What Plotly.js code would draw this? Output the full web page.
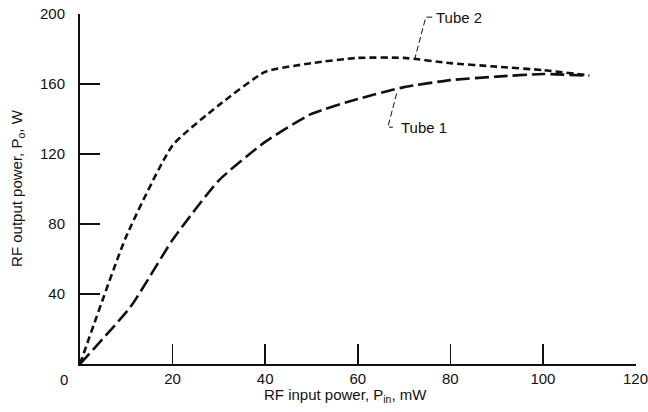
<!DOCTYPE html>
<html>
<head>
<meta charset="utf-8">
<script src="https://cdn.plot.ly/plotly-3.0.1.min.js"></script>
<style>html,body{margin:0;padding:0;background:#fff;}#chart{width:648px;height:412px;}</style>
</head>
<body>
<div id="chart"></div>
<script>
const tube2X = [0, 10, 20, 30, 40, 50, 60, 70, 80, 90, 100, 110];
const tube2Y = [0, 73, 125, 148, 167, 172, 175, 175, 172, 170, 168, 165];
const tube1X = [0, 11, 20, 30, 40, 50, 60, 70, 80, 90, 100, 110];
const tube1Y = [0, 33, 71, 105, 127, 143, 151.5, 158.3, 162.3, 164.3, 165.8, 164.8];
const xTicks = [20, 40, 60, 80, 100, 120];
const yTicks = [40, 80, 120, 160, 200];
const seriesNames = ["Tube 1", "Tube 2"];

const FONT = "'Liberation Sans', Arial, sans-serif";

const traces = [
  {x: tube2X, y: tube2Y, mode: 'lines', name: seriesNames[1],
   line: {color: '#111', width: 2.6, dash: '7px,4px', shape: 'spline', smoothing: 0.5}},
  {x: tube1X, y: tube1Y, mode: 'lines', name: seriesNames[0],
   line: {color: '#111', width: 2.6, dash: '14px,5px', shape: 'spline', smoothing: 0.5}}
];

const axisCommon = {
  showgrid: false, zeroline: false, showline: true, linecolor: '#111', linewidth: 2,
  ticks: 'inside', ticklen: 20, tickwidth: 1.5, tickcolor: '#111',
  ticklabeloverflow: 'allow',
  tickfont: {family: FONT, size: 15, color: '#111'}, fixedrange: true
};

const layout = {
  width: 648, height: 412,
  margin: {l: 80, r: 12, t: 14, b: 48, pad: 0},
  paper_bgcolor: '#fff', plot_bgcolor: '#fff',
  showlegend: false,
  font: {family: FONT, size: 15, color: '#111'},
  xaxis: Object.assign({}, axisCommon, {range: [0, 120.1], tickmode: 'array', tickvals: xTicks,
    ticktext: xTicks.map(String)}),
  yaxis: Object.assign({}, axisCommon, {range: [0, 200.1], tickmode: 'array', tickvals: yTicks,
    ticktext: yTicks.map(String), ticklabelstandoff: 10}),
  annotations: [
    {x: -0.0288, y: -0.0457, xref: 'paper', yref: 'paper', xanchor: 'center', yanchor: 'middle',
     text: '0', showarrow: false, font: {family: FONT, size: 15, color: '#111'}},
    {x: 0.478, y: -0.0914, xref: 'paper', yref: 'paper', xanchor: 'center', yanchor: 'middle',
     text: 'RF input power, P<sub>in</sub>, mW', showarrow: false, font: {family: FONT, size: 15, color: '#111'}},
    {x: -0.1115, y: 0.503, xref: 'paper', yref: 'paper', xanchor: 'center', yanchor: 'middle',
     text: 'RF output power, P<sub>o</sub>, W', showarrow: false,
     textangle: -90, font: {family: FONT, size: 15, color: '#111'}},
    {x: 76.4, y: 198.3, xref: 'x', yref: 'y', text: seriesNames[1], showarrow: false, xanchor: 'left', yanchor: 'middle',
     font: {family: FONT, size: 15, color: '#111'}},
    {x: 68.9, y: 135, xref: 'x', yref: 'y', text: seriesNames[0], showarrow: false, xanchor: 'left', yanchor: 'middle',
     font: {family: FONT, size: 15, color: '#111'}}
  ],
  shapes: [
    {type: 'path', xref: 'x', yref: 'y', path: 'M 76.1 198.3 L 74.7 198.3 L 72.3 174.3',
     line: {color: '#111', width: 1, dash: '6px,3px'}},
    {type: 'path', xref: 'x', yref: 'y', path: 'M 68.4 154.7 L 66.5 135.4 L 67.6 135.4',
     line: {color: '#111', width: 1, dash: '6px,3px'}}
  ]
};

Plotly.newPlot('chart', traces, layout, {displayModeBar: false, staticPlot: true});
</script>
</body>
</html>
